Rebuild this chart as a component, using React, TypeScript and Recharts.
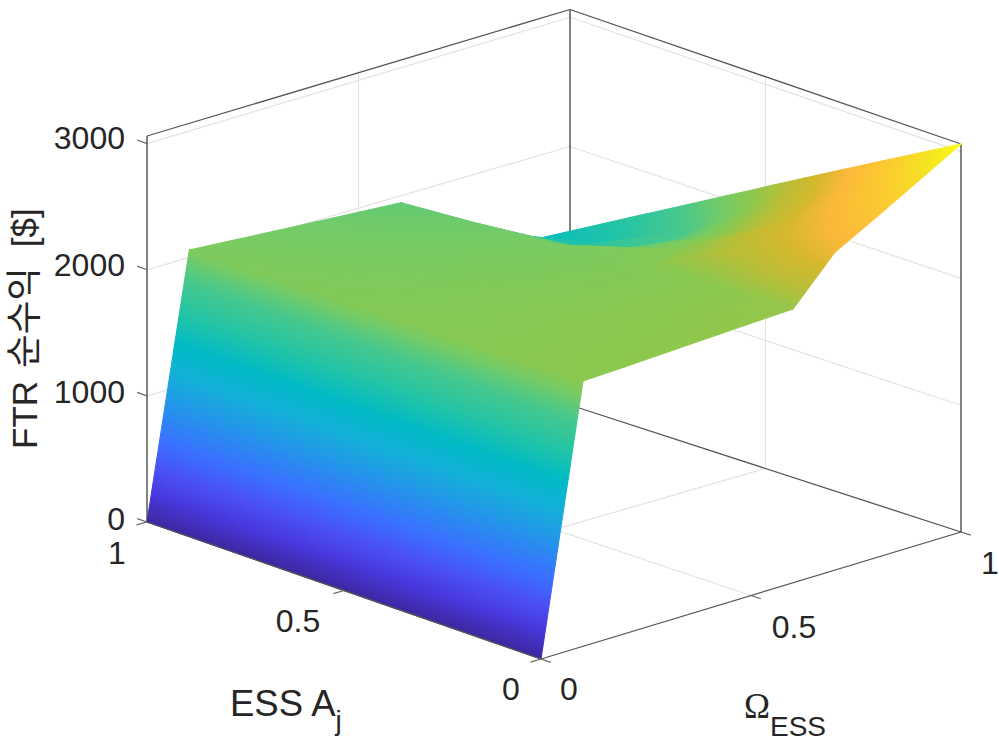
import { ScatterChart, Scatter, XAxis, YAxis } from 'recharts';

const omegaValues = [0, 0.1, 0.2, 0.3, 0.4, 0.5, 0.6, 0.7, 0.8, 0.9, 1];
const ajValues = [0, 0.2, 0.4, 0.6, 0.8, 1];

// FTR net profit [$], one row per ESS A_j, one column per Omega_ESS
const profitAj00 = [0, 2132, 2141, 2150, 2160, 2169, 2178, 2524, 2700, 2880, 3060];
const profitAj02 = [0, 2117, 2120, 2124, 2126, 2129, 2131, 2363, 2466, 2576, 2716];
const profitAj04 = [0, 2102, 2099, 2096, 2092, 2088, 2085, 2113, 2130, 2230, 2372];
const profitAj06 = [0, 2088, 2077, 2067, 2058, 2047, 2038, 1880, 1770, 1840, 2028];
const profitAj08 = [0, 2073, 2056, 2039, 2024, 2007, 1992, 1770, 1610, 1540, 1684];
const profitAj10 = [0, 2058, 2035, 2012, 1990, 1967, 1945, 1720, 1530, 1362, 1340];
const profitRows = [profitAj00, profitAj02, profitAj04, profitAj06, profitAj08, profitAj10];

const zTop = 3060;
const zTicks = [0, 1000, 2000, 3000];
const planeTicks = [0, 0.5, 1];

const W = 999;
const H = 746;

// screen position of the eight corners of the axes box, [omega][aj]
const floorCorners = [[[541, 659], [147, 522]], [[961, 532], [570, 405]]];
const ceilCorners = [[[541, 279], [147, 136]], [[961, 144], [570, 9.5]]];

// colormap stops
const colorStops: [number, number[]][] = [
  [0, [62, 38, 160]],
  [0.07, [72, 56, 220]],
  [0.13, [74, 80, 245]],
  [0.2, [58, 112, 255]],
  [0.3, [34, 152, 232]],
  [0.37, [20, 176, 216]],
  [0.44, [0, 186, 198]],
  [0.52, [36, 196, 165]],
  [0.6, [72, 200, 140]],
  [0.66, [118, 203, 100]],
  [0.7, [140, 200, 78]],
  [0.75, [185, 190, 55]],
  [0.8, [215, 184, 44]],
  [0.84, [252, 184, 58]],
  [0.9, [251, 203, 48]],
  [0.95, [245, 225, 35]],
  [1, [249, 251, 20]],
];

const mix = (a: number, b: number, t: number) => a + (b - a) * t;

function project(omega: number, aj: number, z: number) {
  const f = z / zTop;
  const at = (c: number[][][], k: number) =>
    mix(mix(c[0][0][k], c[1][0][k], omega), mix(c[0][1][k], c[1][1][k], omega), aj);
  return {
    x: mix(at(floorCorners, 0), at(ceilCorners, 0), f),
    y: mix(at(floorCorners, 1), at(ceilCorners, 1), f),
  };
}

function colorAt(t: number) {
  for (let i = 1; i < colorStops.length; i++) {
    if (t <= colorStops[i][0]) {
      const [t0, c0] = colorStops[i - 1];
      const [t1, c1] = colorStops[i];
      const u = (t - t0) / (t1 - t0);
      return `rgb(${c0.map((v, k) => Math.round(mix(v, c1[k], u))).join(',')})`;
    }
  }
  return 'rgb(249,251,20)';
}

interface Vertex { x: number; y: number; z: number }

function makeTri(a: Vertex, b: Vertex, c: Vertex, id: string) {
  return { px: (a.x + b.x + c.x) / 3, py: (a.y + b.y + c.y) / 3, verts: [a, b, c], id };
}

// triangles back to front so nearer cells paint over farther ones
const surfaceTris: any[] = [];
for (let j = ajValues.length - 2; j >= 0; j--) {
  for (let i = omegaValues.length - 2; i >= 0; i--) {
    const v = (ii: number, jj: number): Vertex => ({
      ...project(omegaValues[ii], ajValues[jj], profitRows[jj][ii]),
      z: profitRows[jj][ii],
    });
    surfaceTris.push(makeTri(v(i + 1, j + 1), v(i + 1, j), v(i, j + 1), `t${i}-${j}-a`));
    surfaceTris.push(makeTri(v(i, j), v(i + 1, j), v(i, j + 1), `t${i}-${j}-b`));
  }
}

const seamWidth = 1.1;

const SurfaceTri = ({ cx, cy, payload }: any) => {
  const { verts, px, py, id } = payload;
  const sorted = [...verts].sort((a: Vertex, b: Vertex) => a.z - b.z);
  const lo = sorted[0];
  const hi = sorted[2];
  const pts = verts.map((p: Vertex) => `${cx + p.x - px},${cy + p.y - py}`).join(' ');
  if (hi.z - lo.z < 1) {
    const col = colorAt(lo.z / zTop);
    return <polygon points={pts} fill={col} stroke={col} strokeWidth={seamWidth} />;
  }
  // z is linear on a triangle, so a straight svg gradient is the exact shading
  const ax = verts[1].x - verts[0].x;
  const ay = verts[1].y - verts[0].y;
  const bx = verts[2].x - verts[0].x;
  const by = verts[2].y - verts[0].y;
  const dza = verts[1].z - verts[0].z;
  const dzb = verts[2].z - verts[0].z;
  const det = ax * by - ay * bx;
  const gx = (dza * by - dzb * ay) / det;
  const gy = (ax * dzb - bx * dza) / det;
  const g2 = gx * gx + gy * gy;
  const span = hi.z - lo.z;
  const x1 = cx + lo.x - px;
  const y1 = cy + lo.y - py;
  const x2 = x1 + (gx * span) / g2;
  const y2 = y1 + (gy * span) / g2;
  const t0 = lo.z / zTop;
  const t1 = hi.z / zTop;
  const inner = colorStops.filter(([t]) => t > t0 && t < t1);
  return (
    <g>
      <defs>
        <linearGradient id={id} gradientUnits="userSpaceOnUse" x1={x1} y1={y1} x2={x2} y2={y2}>
          <stop offset={0} stopColor={colorAt(t0)} />
          {inner.map(([t]) => (
            <stop key={t} offset={(t - t0) / (t1 - t0)} stopColor={colorAt(t)} />
          ))}
          <stop offset={1} stopColor={colorAt(t1)} />
        </linearGradient>
      </defs>
      <polygon points={pts} fill={`url(#${id})`} stroke={`url(#${id})`} strokeWidth={seamWidth} strokeLinejoin="round" />
    </g>
  );
};

const seg = (a: { x: number; y: number }, b: { x: number; y: number }, stroke: string, width = 1) => ({
  px: a.x,
  py: a.y,
  dx: b.x - a.x,
  dy: b.y - a.y,
  stroke,
  width,
});

const SegmentShape = ({ cx, cy, payload }: any) => (
  <line
    x1={cx}
    y1={cy}
    x2={cx + payload.dx}
    y2={cy + payload.dy}
    stroke={payload.stroke}
    strokeWidth={payload.width}
  />
);

const gridColor = '#e3e3e3';
const boxColor = '#555555';

// grid on the two back walls and on the floor
const backSegments = [
  ...zTicks.slice(1).flatMap((z) => [
    seg(project(0, 1, z), project(1, 1, z), gridColor, 1.2),
    seg(project(1, 1, z), project(1, 0, z), gridColor, 1.2),
  ]),
  seg(project(0.5, 1, 0), project(0.5, 1, zTop), gridColor, 1.2),
  seg(project(1, 0.5, 0), project(1, 0.5, zTop), gridColor, 1.2),
  seg(project(0.5, 0, 0), project(0.5, 1, 0), gridColor, 1.2),
  seg(project(0, 0.5, 0), project(1, 0.5, 0), gridColor, 1.2),
  seg(project(1, 1, 0), project(1, 1, zTop), '#1a1a1a', 1.1),
  seg(project(1, 1, 0), project(1, 0, 0), boxColor, 1.3),
  seg(project(0, 1, 0), project(1, 1, 0), boxColor, 1.3),
  seg(project(0, 1, zTop), project(1, 1, zTop), boxColor, 1.3),
  seg(project(1, 1, zTop), project(1, 0, zTop), boxColor, 1.3),
  seg(project(0, 1, 0), project(0, 1, zTop), '#1a1a1a', 1.1),
  seg(project(1, 0, 0), project(1, 0, zTop), '#1a1a1a', 1.1),
];

const tickLen = 0.025;
const frontSegments = [
  seg(project(0, 0, 0), project(1, 0, 0), boxColor, 1.3),
  seg(project(0, 0, 0), project(0, 1, 0), boxColor, 1.3),
  ...zTicks.map((z) => seg(project(0, 1, z), project(0, 1 + tickLen, z), '#666', 1.2)),
  ...planeTicks.map((t) => seg(project(0, t, 0), project(-tickLen, t, 0), '#666', 1.2)),
  ...planeTicks.map((t) => seg(project(t, 0, 0), project(t, -tickLen, 0), '#666', 1.2)),
];

const tickFont = '"Liberation Sans", Arial, sans-serif';
const tickSize = 32;
const labelSize = 35;

const textItems = [
  { px: 125, py: 138, kind: 'tick', anchor: 'end', text: '3000' },
  { px: 125, py: 265, kind: 'tick', anchor: 'end', text: '2000' },
  { px: 125, py: 392, kind: 'tick', anchor: 'end', text: '1000' },
  { px: 125, py: 519, kind: 'tick', anchor: 'end', text: '0' },
  { px: 117, py: 553, kind: 'tick', anchor: 'middle', text: '1' },
  { px: 298, py: 621, kind: 'tick', anchor: 'middle', text: '0.5' },
  { px: 511, py: 689, kind: 'tick', anchor: 'middle', text: '0' },
  { px: 569, py: 689, kind: 'tick', anchor: 'middle', text: '0' },
  { px: 794, py: 627, kind: 'tick', anchor: 'middle', text: '0.5' },
  { px: 990, py: 563, kind: 'tick', anchor: 'middle', text: '1' },
  { px: 230, py: 716, kind: 'ajLabel', anchor: 'start', text: 'ESS A' },
  { px: 744, py: 718, kind: 'omegaLabel', anchor: 'start', text: 'Ω' },
  { px: 37, py: 449, kind: 'zLabel', anchor: 'start', text: 'FTR' },
];

const TextShape = ({ cx, cy, payload }: any) => {
  const base = { fill: '#262626', fontFamily: tickFont };
  if (payload.kind === 'tick') {
    return (
      <text {...base} x={cx} y={cy} fontSize={tickSize} textAnchor={payload.anchor} dominantBaseline="central">
        {payload.text}
      </text>
    );
  }
  if (payload.kind === 'ajLabel') {
    return (
      <text {...base} x={cx} y={cy} fontSize={36.5}>
        {payload.text}
        <tspan fontSize={28} dy={14}>j</tspan>
      </text>
    );
  }
  if (payload.kind === 'omegaLabel') {
    return (
      <text {...base} x={cx} y={cy} fontSize={labelSize} fontFamily='"Liberation Serif", serif'>
        {payload.text}
        <tspan fontSize={28} dy={18} fontFamily={tickFont}>ESS</tspan>
      </text>
    );
  }
  return (
    <text
      {...base}
      x={cx}
      y={cy}
      fontSize={labelSize}
      fontFamily='"Liberation Sans", "Noto Sans CJK KR", sans-serif'
      transform={`rotate(-90 ${cx} ${cy})`}
    >
      {payload.text}
      <tspan dx={13} fontSize={36.5}>순수익</tspan>
      <tspan dx={20}>[$]</tspan>
    </text>
  );
};

export default function App() {
  return (
    <div style={{ position: 'absolute', left: 0, top: 0, width: W, height: H, background: '#fff' }}>
      <ScatterChart width={W} height={H} margin={{ top: 0, right: 0, bottom: 0, left: 0 }}>
        <XAxis type="number" dataKey="px" domain={[0, W]} hide />
        <YAxis type="number" dataKey="py" domain={[0, H]} reversed hide />
        <Scatter data={backSegments} shape={SegmentShape} isAnimationActive={false} />
        <Scatter data={surfaceTris} shape={SurfaceTri} isAnimationActive={false} />
        <Scatter data={frontSegments} shape={SegmentShape} isAnimationActive={false} />
        <Scatter data={textItems} shape={TextShape} isAnimationActive={false} />
      </ScatterChart>
    </div>
  );
}
